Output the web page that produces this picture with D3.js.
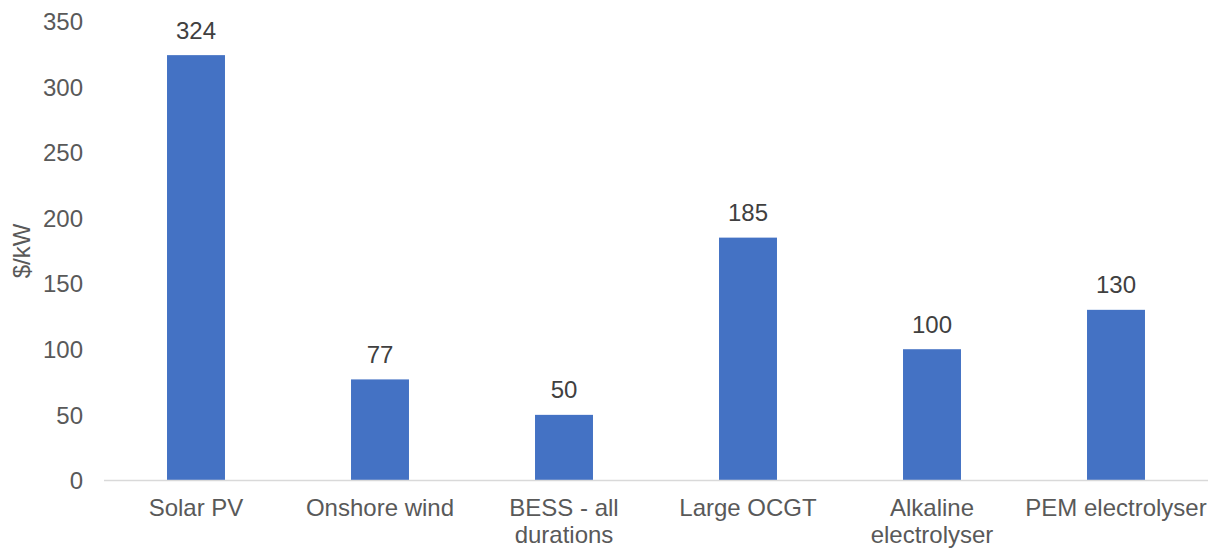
<!DOCTYPE html>
<html>
<head>
<meta charset="utf-8">
<script src="https://cdn.jsdelivr.net/npm/d3@7"></script>
<style>
  html, body { margin: 0; padding: 0; background: #fff; }
  svg { display: block; font-family: "Liberation Sans", Arial, sans-serif; }
</style>
</head>
<body>
<svg id="chart" width="1213" height="548"></svg>
<script>
// Capital cost by technology ($/kW)
const categories = [
  ["Solar PV"],
  ["Onshore wind"],
  ["BESS - all", "durations"],
  ["Large OCGT"],
  ["Alkaline", "electrolyser"],
  ["PEM electrolyser"]
];
const values = [324, 77, 50, 185, 100, 130];
const yTicks = [0, 50, 100, 150, 200, 250, 300, 350];
const yLabel = "$/kW";

const svg = d3.select("#chart");
const fontSize = 24;

const x = d3.scaleBand()
  .domain(d3.range(categories.length))
  .range([104, 1208])
  .paddingInner(0.685)
  .paddingOuter(0.3425);

const y = d3.scaleLinear()
  .domain([0, 350])
  .range([480.5, 21]);

// Bars
svg.append("g")
  .selectAll("rect")
  .data(values)
  .join("rect")
  .attr("x", (d, i) => x(i))
  .attr("y", d => y(d))
  .attr("width", x.bandwidth())
  .attr("height", d => y(0) - y(d))
  .attr("fill", "#4472C4");

// Baseline
svg.append("line")
  .attr("x1", 104).attr("x2", 1208)
  .attr("y1", y(0)).attr("y2", y(0))
  .attr("stroke", "#D9D9D9")
  .attr("stroke-width", 1.5);

// Y axis tick labels
const yAxis = d3.axisLeft(y).tickValues(yTicks).tickSize(0).tickPadding(0);
const gy = svg.append("g")
  .attr("transform", "translate(83,0)")
  .call(yAxis);
gy.select(".domain").remove();
gy.selectAll("text")
  .attr("font-family", "Liberation Sans, Arial, sans-serif")
  .attr("font-size", fontSize)
  .attr("fill", "#595959")
  .attr("dy", "0.35em");

// Y axis title
svg.append("text")
  .attr("transform", `translate(30,251) rotate(-90)`)
  .attr("text-anchor", "middle")
  .attr("font-size", fontSize)
  .attr("fill", "#595959")
  .text(yLabel);

// Category labels
const xl = svg.append("g");
categories.forEach((lines, i) => {
  const t = xl.append("text")
    .attr("text-anchor", "middle")
    .attr("font-size", fontSize)
    .attr("fill", "#595959");
  lines.forEach((ln, j) => {
    t.append("tspan")
      .attr("x", x(i) + x.bandwidth() / 2)
      .attr("y", 516 + j * 27)
      .text(ln);
  });
});

// Value labels
svg.append("g")
  .selectAll("text")
  .data(values)
  .join("text")
  .attr("x", (d, i) => x(i) + x.bandwidth() / 2)
  .attr("y", d => y(d) - 16.5)
  .attr("text-anchor", "middle")
  .attr("font-size", fontSize)
  .attr("fill", "#404040")
  .text(d => d);
</script>
</body>
</html>
